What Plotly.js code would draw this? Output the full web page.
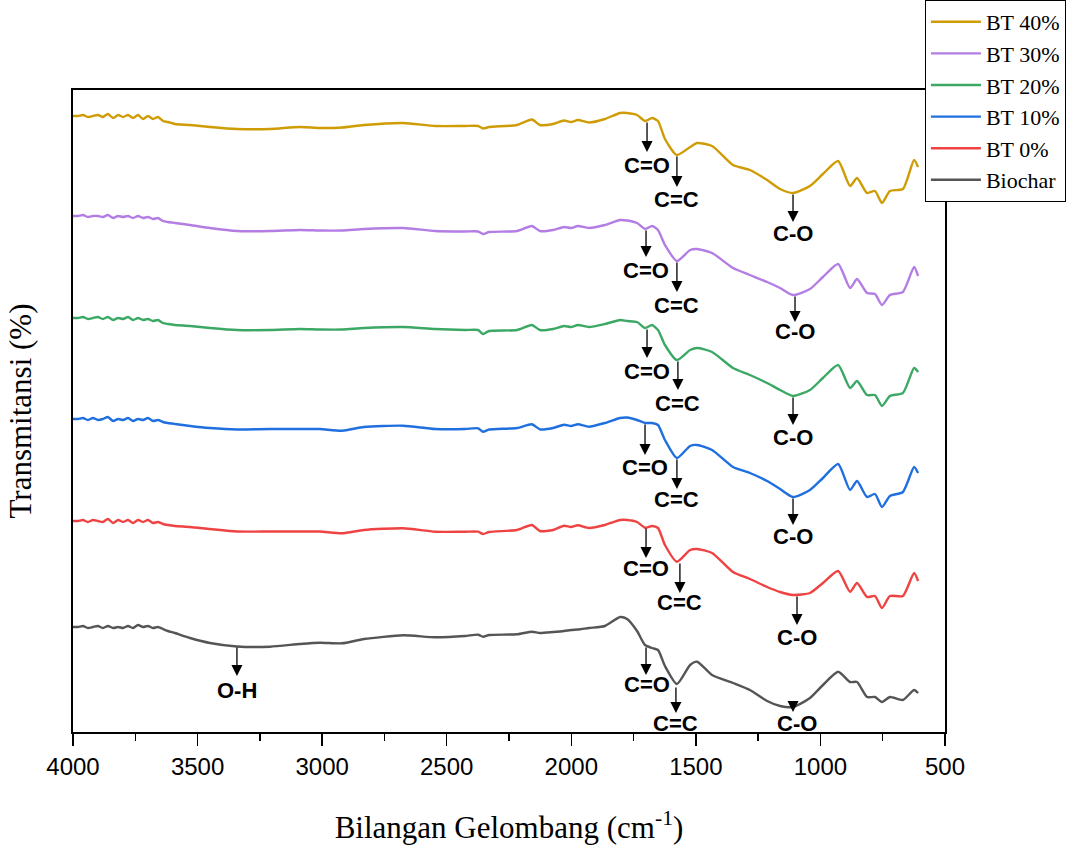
<!DOCTYPE html>
<html>
<head>
<meta charset="utf-8">
<script src="https://cdn.plot.ly/plotly-3.0.1.min.js"></script>
<style>html,body{margin:0;padding:0;background:#fff;}#chart{width:1078px;height:846px;}</style>
</head>
<body>
<div id="chart"></div>
<script>
// Wavenumbers (cm^-1), shared by all spectra
var wavenumber = [4000,3980,3960,3940,3920,3900,3880,3860,3839,3819,3799,3779,3759,3739,3719,3699,3679,3659,3639,3619,
  3591,3530,3450,3342,3209,3089,3009,2920,2832,2675,2547,2427,2374,2354,2330,2218,2158,2126,2073,2029,2001,1973,1929,
  1865,1804,1776,1736,1704,1676,1652,1624,1576,1523,1495,1435,1351,1283,1214,1162,1110,1042,990,929,881,853,813,781,753,721,669,624,608];

// Transmittance (arbitrary units, stacked spectra)
var bt40 = [616,616,617,615,616,617,615,618,614,617,615,617,614,617,613,616,613,615,611,610,
  608,607,605,603,603,605,604,604.5,607,609,606,606,606,603.5,605,607,612.5,607,608,611.5,610,612,609.5,
  613,619,619,617,611,614,611,593,577,585,589,586,567,562,552,543,539,546,558,571,546,554,539,541,529,541,543,572,565];
var bt30 = [516,516,517,515,516,516,515,517,514,516,515,516,514,516,514,515,513,514,511,510,
  509,507,504,501,501,502,501.5,501.5,503,504,501,500.5,500.5,498,500,501,506,501,502,505,504,506,504,
  507,512,511.5,509,503,506,502,487,471,482,483,479,464,457,450,444,437,443,455,468,444,453,439,438,427,437,440,465,456];
var bt20 = [414,414,415,413,414,415,413,415,412,414,413,415,412,414,412,413,411,412,409,408,
  407,406,404,402,402,403,402.5,402.5,404,405,403,402,402,398,401,402,407,402,403,406,405,407,405,
  408,412,411,410,404,407,402,387,372,382,384,380,364,357,349,342,336,342,354,367,344,351,337,337,326,336,339,364,360];
var bt10 = [313,313,314,312,314,312,313,315,311,313,312,314,311,313,312,314,311,312,310,309,
  308,306,304,302.5,303,303,303,301.3,305,306.3,303,303,303.7,300.3,302.5,304,307.7,302.7,304,307.3,306,307.7,305.3,
  309,314,314.5,312,309,309,307,292,274,286,287,282,265,259,251,243,235,242,254,268,242,251,235,238,225,236,240,265,259];
var bt0 = [211,211,212,210,212,211,210,213,209,212,210,212,209,212,210,212,209,210,208,207,
  206,205,203,200.5,200.5,200.5,200.5,198.7,202,203.7,200.3,200.3,200.3,198,200,202,207,201,202,206.3,205,206.7,204,
  207,212,212,210,204.3,206,204,187,170.3,182,183,179,160,153,145,140,137,139,149,161,140.3,149,135,136,124,136,136,159,151];
var biochar = [105,105,106,104,105,106,104,106,104,105,104,106,104,107,105,106,104,105,103,101,
  99,94,89,85.5,85.3,88,89.3,88.7,93,96.7,94.7,96,97.3,95.3,97,97.7,100.3,99,100,101,102,102.5,104,
  106,115,113,101,87,84,82,66,48,67,70.3,57,49,42,31,26,25,34,47,60.3,50,50,35,35,30,35,32,42,39];

var seriesNames = ['BT 40%','BT 30%','BT 20%','BT 10%','BT 0%','Biochar'];
var seriesValues = [bt40, bt30, bt20, bt10, bt0, biochar];
var seriesColors = ['#CF9C05','#B37DE3','#3CA865','#1F6FDF','#EF4343','#555555'];

// Peak labels: [label, arrow wavenumber, arrow tail, arrow head, text wavenumber, text position]
var peakLabels = [
  ['C=O',1696,611,580,1696,567],['C=C',1576,577,545,1576,533],['C-O',1110,539,510,1110,499],
  ['C=O',1700,503,475,1700,462],['C=C',1576,471,440,1576,427],['C-O',1102,437,410,1102,401],
  ['C=O',1696,404,374,1696,361],['C=C',1572,372,342,1572,329],['C-O',1110,336,307,1110,295],
  ['C=O',1704,309,277,1704,265],['C=C',1576,274,243,1576,233],['C-O',1110,235,207,1110,196],
  ['C=O',1700,205,174,1700,164],['C=C',1564,170,139,1564,130],['C-O',1094,137,107,1094,95],
  ['C=O',1700,86,57,1696,48],['C=C',1580,46,19,1580,9],['C-O',1110,29,20,1094,9],
  ['O-H',3342,86,56,3342,42]
];

var traces = seriesNames.map(function(n,i){
  return {x: wavenumber, y: seriesValues[i], name: n, type:'scatter', mode:'lines',
    line:{color: seriesColors[i], width:2.4, shape:'spline', smoothing:0.6}};
});

var annotations = [];
peakLabels.forEach(function(p){
  annotations.push({x:p[1], y:p[3], ax:p[1], ay:p[2], axref:'x', ayref:'y', xref:'x', yref:'y',
    text:'', showarrow:true, arrowhead:2, arrowsize:1.7, arrowwidth:1.3, arrowcolor:'#000'});
  annotations.push({x:p[4], y:p[5], xref:'x', yref:'y', text:'<b>'+p[0]+'</b>', showarrow:false,
    font:{family:'Liberation Sans, Arial', size:22, color:'#000'}, xanchor:'center', yanchor:'middle'});
});

var layout = {
  width:1078, height:846,
  margin:{l:73, r:133, t:90, b:114, autoexpand:false},
  paper_bgcolor:'#fff', plot_bgcolor:'#fff',
  showlegend:true,
  legend:{xref:'container', yref:'container', x:0.858, xanchor:'left', y:1, yanchor:'top',
    bgcolor:'#fff', bordercolor:'#000', borderwidth:1, itemwidth:50,
    font:{family:'Liberation Serif, Times New Roman', size:22, color:'#000'}},
  xaxis:{range:[4000,500], autorange:false, showgrid:false, zeroline:false,
    showline:true, linecolor:'#000', linewidth:2, mirror:true,
    ticks:'outside', ticklen:12, tickwidth:1.5, tickcolor:'#000', dtick:500, tick0:500,
    minor:{dtick:250, ticks:'outside', ticklen:7, tickwidth:1.5, tickcolor:'#000'},
    tickfont:{family:'Liberation Sans, Arial', size:24, color:'#000'},
    title:{text:'Bilangan Gelombang (cm<sup>-1</sup>)', standoff:38,
      font:{family:'Liberation Serif, Times New Roman', size:31, color:'#000'}}},
  yaxis:{range:[0,642], autorange:false, showgrid:false, zeroline:false, showticklabels:false, ticks:'',
    showline:true, linecolor:'#000', linewidth:2, mirror:true,
    title:{text:'Transmitansi (%)', standoff:30,
      font:{family:'Liberation Serif, Times New Roman', size:31, color:'#000'}}},
  annotations: annotations
};

Plotly.newPlot('chart', traces, layout, {displayModeBar:false, staticPlot:true});
</script>
</body>
</html>
